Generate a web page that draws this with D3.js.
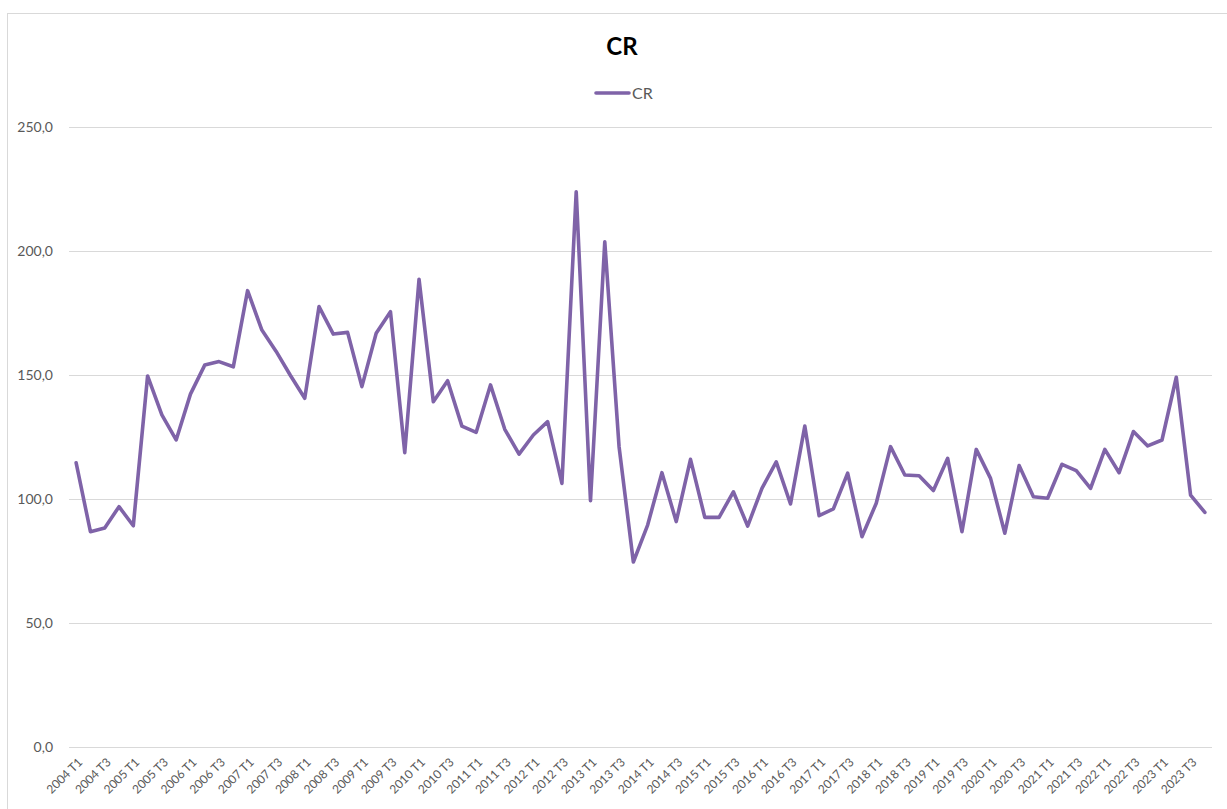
<!DOCTYPE html>
<html>
<head>
<meta charset="utf-8">
<script src="https://cdn.jsdelivr.net/npm/d3@7"></script>
<style>
  html, body { margin: 0; padding: 0; background: #fff; }
  svg { display: block; font-family: Lato, "Open Sans", "Liberation Sans", sans-serif; }
</style>
</head>
<body>
<svg id="chart" width="1227" height="809"></svg>
<script>
// Quarterly CR index, 2004 T1 – 2023 T4
const years = [2004, 2005, 2006, 2007, 2008, 2009, 2010, 2011, 2012, 2013,
               2014, 2015, 2016, 2017, 2018, 2019, 2020, 2021, 2022, 2023];
const quarters = ["T1", "T2", "T3", "T4"];
const categories = years.flatMap(y => quarters.map(q => `${y} ${q}`));

const crValues = [
  114.6, 86.8, 88.3, 96.9, 89.2, 149.6, 133.9, 123.8, 142.3, 154.0,
  155.4, 153.3, 184.0, 168.1, 159.5, 149.8, 140.6, 177.6, 166.5, 167.2,
  145.3, 166.8, 175.5, 118.7, 188.6, 139.2, 147.7, 129.4, 126.9, 146.0,
  128.1, 118.1, 125.8, 131.2, 106.3, 223.9, 99.3, 203.7, 121.1, 74.6,
  89.5, 110.6, 90.9, 116.0, 92.6, 92.6, 102.9, 89.1, 104.3, 115.0,
  98.0, 129.4, 93.3, 96.0, 110.4, 84.8, 98.3, 121.1, 109.7, 109.4,
  103.4, 116.4, 86.8, 120.0, 108.3, 86.2, 113.5, 100.9, 100.3, 114.0,
  111.4, 104.3, 120.0, 110.6, 127.2, 121.4, 123.8, 149.1, 101.6, 94.6
];

const yTicks = [0, 50, 100, 150, 200, 250];
const xTickLabels = categories.filter(c => c.endsWith("T1") || c.endsWith("T3"));

const title = "CR";
const seriesName = "CR";

const svg = d3.select("#chart");
const lineColor = "#7f63a8";
const gridColor = "#d9d9d9";
const textColor = "#595959";

// chart frame
svg.append("rect")
  .attr("x", 7.5).attr("y", 13.5)
  .attr("width", 1240).attr("height", 820)
  .attr("fill", "none").attr("stroke", gridColor).attr("stroke-width", 1);

const plot = { left: 69, right: 1212, top: 127, bottom: 747 };

const x = d3.scaleBand()
  .domain(categories)
  .range([plot.left, plot.right])
  .paddingInner(0).paddingOuter(0);

const y = d3.scaleLinear()
  .domain([0, 250])
  .range([plot.bottom, plot.top]);

// horizontal gridlines + value labels
const yAxis = d3.axisLeft(y)
  .tickValues(yTicks)
  .tickSize(-(plot.right - plot.left))
  .tickPadding(16)
  .tickFormat(d => d3.format(".1f")(d).replace(".", ","));

const gy = svg.append("g")
  .attr("transform", `translate(${plot.left},0)`)
  .call(yAxis);
gy.select(".domain").remove();
gy.selectAll(".tick line").attr("stroke", gridColor).attr("stroke-width", 1.2);
gy.selectAll(".tick text")
  .attr("fill", textColor)
  .attr("font-size", 14)
  .attr("font-family", "Lato, 'Open Sans', sans-serif");

// category axis labels (every other quarter), rotated
const xAxis = d3.axisBottom(x)
  .tickValues(xTickLabels)
  .tickSize(0)
  .tickPadding(0);

const gx = svg.append("g")
  .attr("transform", `translate(0,${plot.bottom})`)
  .call(xAxis);
gx.select(".domain").remove();
gx.selectAll(".tick text")
  .attr("fill", textColor)
  .attr("font-size", 12)
  .attr("font-family", "Lato, 'Open Sans', sans-serif")
  .attr("text-anchor", "end")
  .attr("transform", "translate(4,13) rotate(-45)")
  .attr("dy", "0.35em")
  .attr("y", 0);

// data line
const line = d3.line()
  .x((d, i) => x(categories[i]) + x.bandwidth() / 2)
  .y(d => y(d));

svg.append("path")
  .datum(crValues)
  .attr("d", line)
  .attr("fill", "none")
  .attr("stroke", lineColor)
  .attr("stroke-width", 3.6)
  .attr("stroke-linejoin", "round")
  .attr("stroke-linecap", "round");

// title
svg.append("text")
  .attr("x", 622).attr("y", 55)
  .attr("text-anchor", "middle")
  .attr("font-size", 24)
  .attr("font-weight", "bold")
  .attr("fill", "#000")
  .text(title);

// legend
const legend = svg.append("g").attr("transform", "translate(596,93)");
legend.append("line")
  .attr("x1", 0).attr("x2", 33).attr("y1", 0).attr("y2", 0)
  .attr("stroke", lineColor).attr("stroke-width", 3.6).attr("stroke-linecap", "round");
legend.append("text")
  .attr("x", 36).attr("y", 0).attr("dy", "0.35em")
  .attr("font-size", 16)
  .attr("fill", textColor)
  .text(seriesName);
</script>
</body>
</html>
